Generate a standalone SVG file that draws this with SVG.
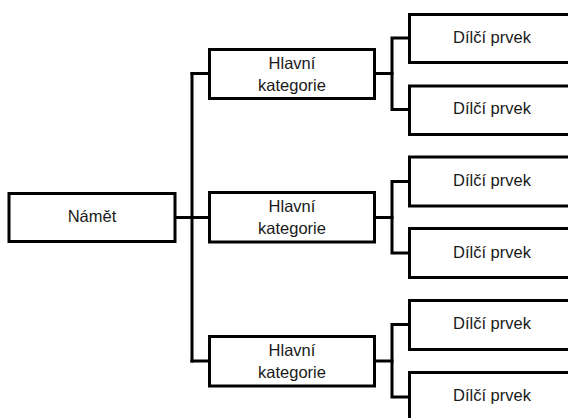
<svg xmlns="http://www.w3.org/2000/svg" width="568" height="418" viewBox="0 0 568 418">
  <style>
    .box { fill: #ffffff; stroke: #000000; stroke-width: 3; }
    .wire { fill: none; stroke: #000000; stroke-width: 3; stroke-linejoin: miter; stroke-linecap: square; }
    .label { font-family: "Liberation Sans", Arial, sans-serif; font-size: 16.5px; fill: #1a1a1a; text-anchor: middle; }
  </style>
  <rect width="568" height="418" fill="#ffffff"/>

  <!-- connectors -->
  <g id="connectors" class="wire">
    <!-- root to main spine -->
    <path d="M175 217.5 H209.5"/>
    <path d="M192 73.5 V361"/>
    <path d="M192 73.5 H209.5"/>
    <path d="M192 361 H209.5"/>
    <!-- category outputs -->
    <path d="M374.5 73.5 H392"/>
    <path d="M374.5 217.5 H392"/>
    <path d="M374.5 361 H392"/>
    <!-- sub-spines -->
    <path d="M409.5 38 H392 V109.5 H409.5"/>
    <path d="M409.5 181.5 H392 V253 H409.5"/>
    <path d="M409.5 324.5 H392 V397 H409.5"/>
  </g>

  <g id="root">
    <rect class="box" x="9" y="193.5" width="166" height="48"/>
    <text class="label" x="92" y="222">Námět</text>
  </g>

  <g id="category-1">
    <rect class="box" x="209.5" y="49.5" width="165" height="49"/>
    <text class="label" x="292" y="69">Hlavní</text>
    <text class="label" x="292" y="91">kategorie</text>
  </g>
  <g id="category-2">
    <rect class="box" x="209.5" y="192.5" width="165" height="49.5"/>
    <text class="label" x="292" y="212">Hlavní</text>
    <text class="label" x="292" y="234">kategorie</text>
  </g>
  <g id="category-3">
    <rect class="box" x="209.5" y="336.5" width="165" height="49.5"/>
    <text class="label" x="292" y="356">Hlavní</text>
    <text class="label" x="292" y="378">kategorie</text>
  </g>

  <g id="item-1">
    <rect class="box" x="409.5" y="14.5" width="200" height="48"/>
    <text class="label" x="492" y="42.5">Dílčí prvek</text>
  </g>
  <g id="item-2">
    <rect class="box" x="409.5" y="86" width="200" height="48.5"/>
    <text class="label" x="492" y="114">Dílčí prvek</text>
  </g>
  <g id="item-3">
    <rect class="box" x="409.5" y="157" width="200" height="49"/>
    <text class="label" x="492" y="186">Dílčí prvek</text>
  </g>
  <g id="item-4">
    <rect class="box" x="409.5" y="228.5" width="200" height="49"/>
    <text class="label" x="492" y="257.5">Dílčí prvek</text>
  </g>
  <g id="item-5">
    <rect class="box" x="409.5" y="300.5" width="200" height="49"/>
    <text class="label" x="492" y="329">Dílčí prvek</text>
  </g>
  <g id="item-6">
    <rect class="box" x="409.5" y="372.5" width="200" height="60"/>
    <text class="label" x="492" y="400.5">Dílčí prvek</text>
  </g>
</svg>
